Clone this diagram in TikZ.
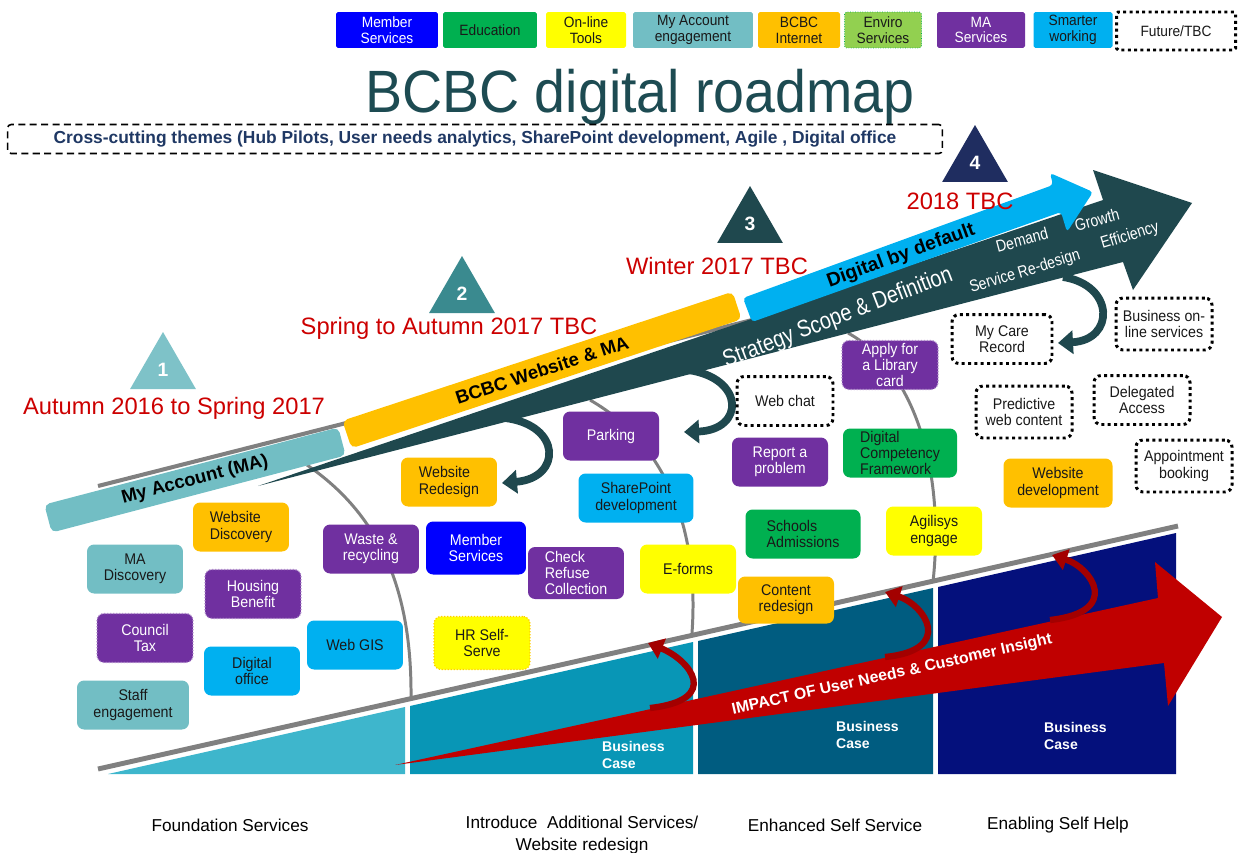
\documentclass[tikz,border=0pt]{standalone}
\usepackage{fontspec}
\setmainfont{Liberation Sans}
\newfontfamily\narrowfont{Liberation Sans}[FakeStretch=0.92]
\newfontfamily\arrowfont{Liberation Sans}[FakeStretch=0.84]
\newfontfamily\titlefont{Liberation Sans}[FakeStretch=0.93]
\usetikzlibrary{shapes.geometric, arrows.meta}

\definecolor{mablue}{RGB}{0,0,255}
\definecolor{edugreen}{RGB}{0,176,80}
\definecolor{toolyellow}{RGB}{255,255,0}
\definecolor{acctteal}{RGB}{114,190,196}
\definecolor{webamber}{RGB}{255,192,0}
\definecolor{envgreen}{RGB}{146,208,80}
\definecolor{svcpurple}{RGB}{112,48,160}
\definecolor{smartcyan}{RGB}{0,176,240}
\definecolor{slate}{RGB}{31,72,78}
\definecolor{titleslate}{RGB}{29,75,82}
\definecolor{navytext}{RGB}{31,56,100}
\definecolor{datered}{RGB}{204,0,0}
\definecolor{impactred}{RGB}{192,0,0}
\definecolor{phaseA}{RGB}{62,182,204}
\definecolor{phaseB}{RGB}{8,150,182}
\definecolor{phaseC}{RGB}{0,92,128}
\definecolor{phaseD}{RGB}{4,16,124}
\definecolor{triA}{RGB}{126,194,200}
\definecolor{triB}{RGB}{58,138,143}
\definecolor{triD}{RGB}{31,45,96}
\definecolor{railgray}{RGB}{128,128,128}

\newcommand{\tilefont}{\narrowfont\fontsize{8.8}{9.2}\selectfont}

\begin{document}
\begin{tikzpicture}[x=0.02cm, y=-0.02cm,
        tile/.style={rectangle, rounded corners=4pt, minimum width=1.92cm, minimum height=0.98cm, inner sep=1pt, align=center, font=\tilefont, text=black!90},
        wtile/.style={tile, text=white},
        dots/.style={draw=svcpurple!55, densely dotted, line width=0.7pt},
        future/.style={fill=white, draw=black, line width=1.7pt, dash pattern=on 1.7pt off 1.9pt},
        keybox/.style={tile, minimum height=0.72cm, rounded corners=1pt, font=\narrowfont\fontsize{8.5}{9}\selectfont},
        tri/.style={regular polygon, regular polygon sides=3, minimum size=1.52cm, inner sep=0pt, text=white, font=\bfseries\fontsize{11}{11}\selectfont},
        date/.style={text=datered, font=\fontsize{13.5}{14}\selectfont},
        seam/.style={draw=railgray, line width=1.7pt},
        curl/.style={line width=4.4pt, -{Triangle[width=0.46cm, length=0.3cm]}},
        redcurl/.style={draw=impactred!85!black, line width=3.6pt, -{Triangle[width=0.42cm, length=0.3cm]}},
        onarrow/.style={text=white, font=\arrowfont\fontsize{9.5}{10}\selectfont},
        bizcase/.style={text=white, align=left, anchor=west, font=\bfseries\fontsize{8}{9.5}\selectfont},
        stage/.style={font=\fontsize{9.8}{12}\selectfont, align=center}]

        \useasboundingbox (0,0) rectangle (1240,852);

        % Stage blocks under the ramp
        \fill[phaseA] (108,774) -- (405,707) -- (405,774) -- cycle;
        \fill[phaseB] (410,706) -- (693,642) -- (693,774) -- (410,774) -- cycle;
        \fill[phaseC] (698,641) -- (933,588) -- (933,774) -- (698,774) -- cycle;
        \fill[phaseD] (938,587) -- (1176,533) -- (1176,774) -- (938,774) -- cycle;
        \draw[railgray, line width=2.8pt] (98,769) -- (1178,526);
        \node[bizcase] (caseB) at (596,755) {Business\\Case};
        \node[bizcase] (caseC) at (830,735) {Business\\Case};
        \node[bizcase] (caseD) at (1038,736) {Business\\Case};

        % Impact arrow
        \fill[impactred] (395,765) -- (1158,598) -- (1155,562) -- (1222,617) -- (1168,706) -- (1164,663) -- cycle;
        \node[text=white, font=\bfseries\fontsize{9}{10}\selectfont, rotate=12.5] (impact) at (892,675) {IMPACT OF User Needs \& Customer Insight};
        \draw[redcurl] (650,708) .. controls (722,700) and (690,660) .. (648,643);
        \draw[redcurl] (885,657) .. controls (955,650) and (925,605) .. (885,592);
        \draw[redcurl] (1050,620) .. controls (1122,612) and (1092,568) .. (1052,555);

        % Stage dividers
        \draw[seam] (307,465) .. controls (380,515) and (412,590) .. (411,698);
        \draw[seam] (590,400) .. controls (660,440) and (700,520) .. (692,633);
        \draw[seam] (848,333) .. controls (915,370) and (945,470) .. (933,582);
        \draw[railgray, line width=2.3pt] (98,486) -- (760,318);

        % Strategy arrow
        \fill[slate] (258,486) -- (1103,200) -- (1093,170) -- (1192,203) -- (1133,290) -- (1123,262) -- cycle;
        \node[onarrow, font=\arrowfont\fontsize{13.5}{14}\selectfont, rotate=21] (scope) at (838,318) {Strategy Scope \& Definition};
        \node[onarrow, rotate=17] (redesign) at (1025,272) {Service Re-design};
        \node[onarrow, rotate=15] (demand) at (1022,240) {Demand};
        \node[onarrow, rotate=15] (growth) at (1097,220) {Growth};
        \node[onarrow, rotate=17] (effic) at (1130,236) {Efficiency};
        \draw[curl, slate] (505,418) .. controls (562,425) and (562,478) .. (502,483);
        \draw[curl, slate] (688,370) .. controls (745,378) and (745,430) .. (684,432);
        \draw[curl, slate] (1063,277) .. controls (1115,285) and (1115,340) .. (1058,343);

        % Digital by default
        \fill[smartcyan, rounded corners=2pt] (752,322) -- (743,298) -- (1053,185) -- (1050,173) -- (1093,192) -- (1067,232) -- (1061,212) -- cycle;
        \node[font=\bfseries\fontsize{11}{12}\selectfont, rotate=20] (digital) at (901,256) {Digital by default};

        % Website and My Account bars
        \node[fill=webamber, rounded corners=3pt, rotate=18.3, minimum width=8.22cm, minimum height=0.58cm, font=\bfseries\fontsize{10.5}{11}\selectfont] (website) at (542,370) {BCBC Website \& MA};
        \node[fill=acctteal, rounded corners=3pt, rotate=14.7, minimum width=6.08cm, minimum height=0.54cm, font=\bfseries\fontsize{10.5}{11}\selectfont] (account) at (195,480) {My Account (MA)};

        % Phases
        \node[tri, fill=triA] (p1) at (163,370) {1};
        \node[tri, fill=triB] (p2) at (462,294) {2};
        \node[tri, fill=slate] (p3) at (750,224) {3};
        \node[tri, fill=triD] (p4) at (975,163) {4};
        \node[date] (d1) at (174,408) {Autumn 2016 to Spring 2017};
        \node[date] (d2) at (449,328) {Spring to Autumn 2017 TBC};
        \node[date] (d3) at (717,266) {Winter 2017 TBC};
        \node[date] (d4) at (960,201) {2018 TBC};

        % Foundation services
        \node[tile, fill=webamber, align=left] (wdisc) at (241,527) {Website\\Discovery};
        \node[tile, fill=acctteal] (madisc) at (135,569) {MA\\Discovery};
        \node[wtile, fill=svcpurple, dots] (housing) at (253,594) {Housing\\Benefit};
        \node[wtile, fill=svcpurple, dots] (ctax) at (145,638) {Council\\Tax};
        \node[tile, fill=acctteal, minimum width=2.24cm] (staff) at (133,705) {Staff\\engagement};
        \node[tile, fill=smartcyan] (digoffice) at (252,671) {Digital\\office};
        \node[tile, fill=smartcyan] (webgis) at (355,645) {Web GIS};
        \node[wtile, fill=svcpurple] (waste) at (371,549) {Waste \&\\recycling};

        % Additional services
        \node[wtile, fill=mablue, minimum width=2cm, minimum height=1.06cm] (member) at (476,548) {Member\\Services};
        \node[tile, fill=webamber, align=left] (wredesign) at (449,482) {Website\\Redesign};
        \node[wtile, fill=svcpurple, align=left, minimum height=1.04cm] (refuse) at (576,573) {Check\\Refuse\\Collection};
        \node[tile, fill=toolyellow, draw=webamber!80!yellow, densely dotted, line width=0.7pt, minimum height=1.06cm] (hrself) at (482,643) {HR Self-\\Serve};
        \node[wtile, fill=svcpurple] (parking) at (611,436) {Parking};
        \node[tile, fill=smartcyan, minimum width=2.3cm] (sharepoint) at (636,498) {SharePoint\\development};
        \node[tile, fill=toolyellow] (eforms) at (688,569) {E-forms};

        % Enhanced self service
        \node[tile, future, align=left] (webchat) at (785,401) {Web chat};
        \node[wtile, fill=svcpurple] (report) at (780,462) {Report a\\problem};
        \node[wtile, fill=svcpurple, dots] (library) at (890,365) {Apply for\\a Library\\card};
        \node[tile, fill=edugreen, align=left, minimum width=2.28cm] (dcf) at (900,453) {Digital\\Competency\\Framework};
        \node[tile, fill=edugreen, align=left, minimum width=2.3cm] (schools) at (803,534) {Schools\\Admissions};
        \node[tile, fill=toolyellow] (agilisys) at (934,531) {Agilisys\\engage};
        \node[tile, fill=webamber, minimum height=0.94cm] (content) at (786,600) {Content\\redesign};

        % Enabling self help
        \node[tile, future, minimum width=2cm] (mycare) at (1002,339) {My Care\\Record};
        \node[tile, future, minimum height=1.04cm] (bizonline) at (1164,324) {Business on-\\line services};
        \node[tile, future, minimum height=1.04cm] (predictive) at (1024,412) {Predictive\\web content};
        \node[tile, future] (delegated) at (1142,400) {Delegated\\Access};
        \node[tile, fill=webamber, minimum width=2.18cm] (wdev) at (1058,483) {Website\\development};
        \node[tile, future, minimum height=1.04cm] (appt) at (1184,466) {Appointment\\booking};

        % Key
        \node[keybox, fill=mablue, text=white, minimum width=2.04cm] (kmember) at (387,30) {Member\\Services};
        \node[keybox, fill=edugreen, minimum width=1.88cm] (kedu) at (490,30) {Education};
        \node[keybox, fill=toolyellow, minimum width=1.6cm] (ktools) at (586,30) {On-line\\Tools};
        \node[keybox, fill=acctteal, minimum width=2.4cm] (kacct) at (693,30) {My Account\\engagement};
        \node[keybox, fill=webamber, minimum width=1.64cm] (kweb) at (799,30) {BCBC\\Internet};
        \node[keybox, fill=envgreen, draw=edugreen, densely dotted, minimum width=1.54cm] (kenv) at (883,30) {Enviro\\Services};
        \node[keybox, fill=svcpurple, text=white, minimum width=1.76cm] (kma) at (981,30) {MA\\Services};
        \node[keybox, fill=smartcyan, minimum width=1.58cm] (ksmart) at (1073,30) {Smarter\\working};
        \node[keybox, future, minimum width=2.38cm, minimum height=0.76cm] (kfuture) at (1176,31) {Future/TBC};

        % Title and themes
        \node[text=titleslate, font=\titlefont\fontsize{34}{35}\selectfont] (title) at (640,97) {BCBC digital roadmap};
        \node[draw, line width=0.9pt, dash pattern=on 4pt off 2.5pt, rounded corners=2pt, minimum width=18.7cm, minimum height=0.58cm, text=navytext, font=\bfseries\fontsize{9.9}{10}\selectfont] (themes) at (475,139) {Cross-cutting themes (Hub Pilots, User needs analytics, SharePoint development, Agile , Digital office};

        % Stage names
        \node[stage] (s1) at (230,825) {Foundation Services};
        \node[stage] (s2) at (582,835) {Introduce \ Additional Services/\\Website redesign};
        \node[stage] (s3) at (835,825) {Enhanced Self Service};
        \node[stage] (s4) at (1058,825) {Enabling Self Help};
    \end{tikzpicture}
\end{document}
